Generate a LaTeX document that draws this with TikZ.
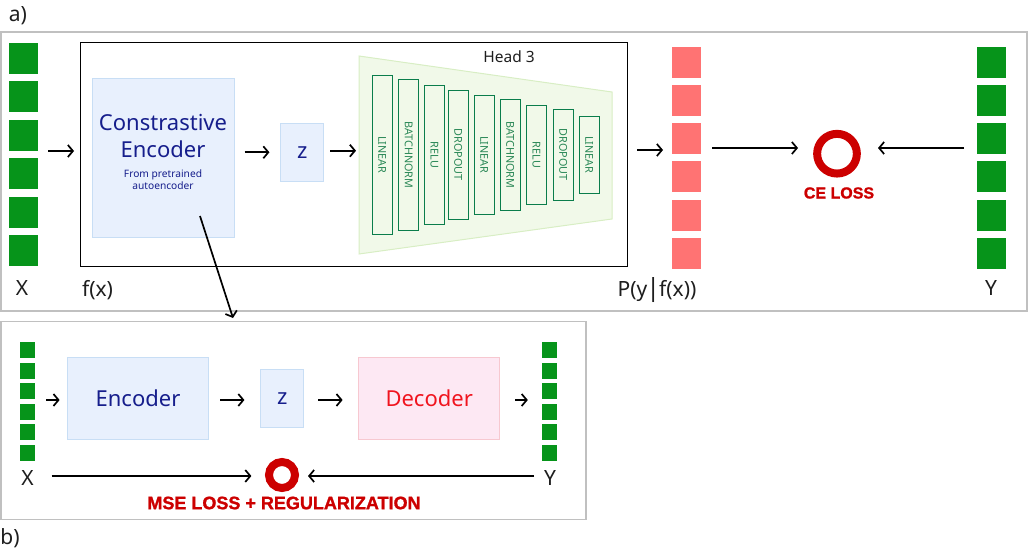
\documentclass[tikz,border=0pt]{standalone}
\usepackage{fontspec}
\setmainfont{Noto Sans}
\newfontfamily\heavyfont{Liberation Sans}[BoldFeatures={FakeBold=1.3}]
\usetikzlibrary{arrows.meta}
\definecolor{sqgreen}{RGB}{6,148,26}
\definecolor{sqred}{RGB}{255,115,115}
\definecolor{lossred}{RGB}{204,0,0}
\definecolor{navy}{RGB}{22,30,140}
\definecolor{bluefill}{RGB}{232,240,253}
\definecolor{blueborder}{RGB}{200,222,245}
\definecolor{pinkfill}{RGB}{253,232,243}
\definecolor{pinkborder}{RGB}{247,200,208}
\definecolor{decred}{RGB}{240,20,30}
\definecolor{headfill}{RGB}{241,249,233}
\definecolor{headborder}{RGB}{216,238,196}
\definecolor{layerborder}{RGB}{10,125,75}
\definecolor{layertext}{RGB}{40,135,85}
\definecolor{panelgray}{RGB}{192,192,192}
\definecolor{txtdark}{RGB}{30,30,30}
\tikzset{
  panelbox/.style={draw=panelgray, line width=1.2pt, inner sep=0},
  bigsq/.style={fill=#1, draw=none, minimum width=29pt, minimum height=31pt, inner sep=0},
  smallsq/.style={fill=sqgreen, draw=none, minimum width=15pt, minimum height=16pt, inner sep=0},
  bluebox/.style={fill=bluefill, draw=blueborder, line width=1pt, inner sep=0},
  pinkbox/.style={fill=pinkfill, draw=pinkborder, line width=1pt, inner sep=0},
  layer/.style={draw=layerborder, line width=1.3pt, rotate=-90, minimum height=20pt, inner sep=0,
    font=\fontsize{10.8}{11}\selectfont, text=layertext},
  lbl/.style={font=\fontsize{21}{25}\selectfont, text=txtdark, inner sep=0},
  navytxt/.style={text=navy, inner sep=0, align=center},
  lossring/.style={circle, draw=lossred, inner sep=0},
  losstxt/.style={text=lossred, inner sep=0, font=\heavyfont\bfseries\fontsize{18}{20}\selectfont},
  arr/.style={-{Straight Barb[length=5pt,width=12pt]}, line width=1.7pt, black},
}
\begin{document}
\begin{tikzpicture}[x=1pt,y=-1pt]
\useasboundingbox (0,0) rectangle (1029,551);
% panels
\node[panelbox, minimum width=1026pt, minimum height=279pt] (pa) at (514,171.5) {};
\node[panelbox, minimum width=585pt, minimum height=197.6pt] (pb) at (293.5,420.5) {};
\node[lbl, anchor=center] (alab) at (18,16) {a)};
\node[lbl, anchor=center] (blab) at (10,538) {b)};

% ---------- panel a ----------
\foreach \i in {0,...,5} {
  \node[bigsq=sqgreen] (xa\i) at (23.5,{58.5+38.4*\i}) {};
  \node[bigsq=sqred] (pr\i) at (686.5,{62.2+38.2*\i}) {};
  \node[bigsq=sqgreen] (ya\i) at (991.5,{62.2+38.2*\i}) {};
}
\node[lbl] (xlab) at (22,288) {X};
\node[lbl] (ylab) at (991,288) {Y};
\node[lbl] (plab) at (657,290.5) {P(y\kern-1pt{\fontsize{25}{25}\selectfont|}\kern-1pt f(x))};
\node[lbl] (fxlab) at (97.5,290) {f(x)};

\node[draw=black, line width=1pt, minimum width=547pt, minimum height=223pt, inner sep=0] (fx) at (353.5,154.5) {};

\node[bluebox, minimum width=142pt, minimum height=158pt] (ce) at (163,158) {};
\node[navytxt, font=\fontsize{22}{27}\selectfont] (cet) at (163,136.5) {Constrastive\\Encoder};
\node[navytxt, font=\fontsize{10.2}{12}\selectfont] (cesub) at (163,180) {From pretrained\\autoencoder};

\node[bluebox, minimum width=42.7pt, minimum height=58pt, text=navy, font=\fontsize{22}{26}\selectfont] (za) at (302.3,152.3) {z};

\draw[fill=headfill, draw=headborder, line width=1pt] (359,56) -- (612,92) -- (612,219) -- (359,254) -- cycle;
\coordinate (headin) at (359,150.7);
\node[text=txtdark, inner sep=0, font=\fontsize{15.5}{17}\selectfont] (headlab) at (509,57) {Head 3};
\foreach \x/\h/\t [count=\i] in {382.3/159/LINEAR, 408.7/151.4/BATCHNORM, 434.3/139/RELU, 458.3/129/DROPOUT,
  484.3/119/LINEAR, 510.3/111/BATCHNORM, 536.3/99/RELU, 563.3/91/DROPOUT, 589.3/77/LINEAR} {
  \node[layer, minimum width=\h pt] (L\i) at (\x,154.9) {\t};
}

\node[lossring, line width=8pt, minimum size=39.7pt] (celoss) at (837,153.7) {};
\node[losstxt, font=\heavyfont\bfseries\fontsize{16}{18}\selectfont] (celosstxt) at (839,193) {CE LOSS};

\coordinate (xaout) at (48,151);
\coordinate (fxin) at (74,151);
\coordinate (headout) at (637,150);
\coordinate (prin) at (663,150);
\coordinate (prout) at (712,148);
\coordinate (celossL) at (798,148);
\coordinate (yaout) at (964,148);
\coordinate (celossR) at (878,148);
\draw[arr] (xaout) -- (fxin);
\draw[arr, shorten <=10pt, shorten >=11pt] (ce.east |- za.west) -- (za.west);
\draw[arr, shorten <=6.3pt, shorten >=3pt] (za.east |- headin) -- (headin);
\draw[arr] (headout) -- (prin);
\draw[arr] (prout) -- (celossL);
\draw[arr] (yaout) -- (celossR);

% arrow from constrastive encoder to panel b
\coordinate (downstart) at (200,216);
\coordinate (downend) at (233,318);
\draw[arr] (downstart) -- (downend);

% ---------- panel b ----------
\foreach \i in {0,...,5} {
  \node[smallsq] (xb\i) at (27.4,{350.2+20.46*\i}) {};
  \node[smallsq] (yb\i) at (549.5,{350.2+20.46*\i}) {};
}
\node[bluebox, minimum width=141pt, minimum height=82pt, text=navy, font=\fontsize{22}{26}\selectfont] (enc) at (138,398.3) {Encoder};
\node[bluebox, minimum width=42.5pt, minimum height=58pt, text=navy, font=\fontsize{22}{26}\selectfont] (zb) at (282.2,398.3) {z};
\node[pinkbox, minimum width=141pt, minimum height=82pt, text=decred, font=\fontsize{22}{26}\selectfont] (dec) at (429.2,398.3) {Decoder};

\coordinate (xbout) at (46,400);
\draw[arr, shorten >=7.4pt] (xbout) -- (enc.west |- xbout);
\draw[arr, shorten <=11.4pt, shorten >=16pt] (enc.east |- xbout) -- (zb.west |- xbout);
\draw[arr, shorten <=14.5pt, shorten >=15.6pt] (zb.east |- xbout) -- (dec.west |- xbout);
\draw[arr, shorten <=15pt, shorten >=14pt] (dec.east |- xbout) -- (yb3.west |- xbout);

\node[lbl] (xblab) at (27.5,478) {X};
\node[lbl] (yblab) at (550,478) {Y};
\node[lossring, line width=8pt, minimum size=26pt] (mseloss) at (282,475) {};
\node[losstxt] (mselosstxt) at (284,503) {MSE LOSS + REGULARIZATION};
\coordinate (xbl) at (51.7,476);
\coordinate (msel) at (251.4,476);
\coordinate (ybl) at (534,476);
\coordinate (mser) at (308,476);
\draw[arr] (xbl) -- (msel);
\draw[arr] (ybl) -- (mser);
\end{tikzpicture}
\end{document}
